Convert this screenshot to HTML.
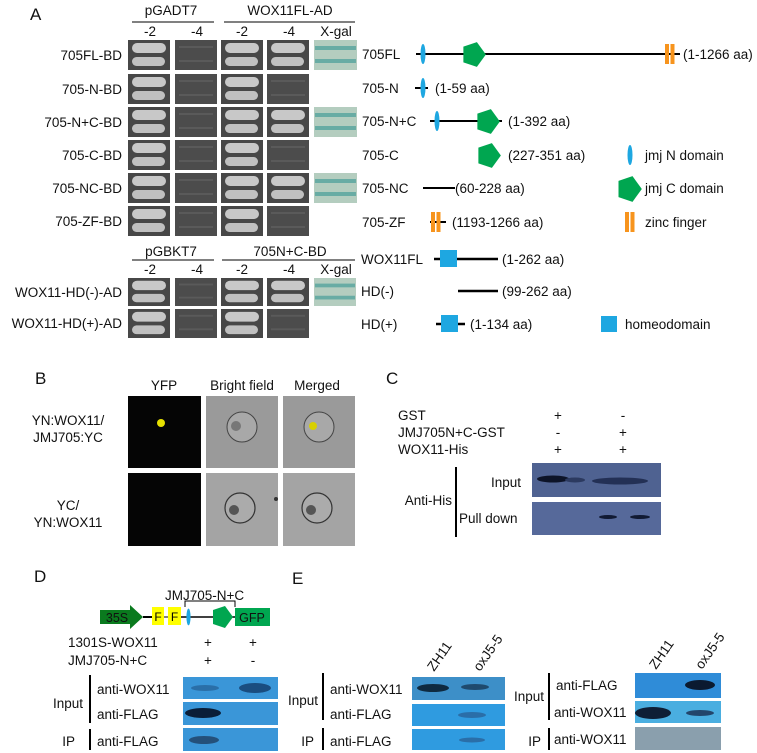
<!DOCTYPE html>
<html><head><meta charset="utf-8"><style>
html,body{margin:0;padding:0;background:#fff;}
svg{display:block;font-family:"Liberation Sans",Arial,sans-serif;}
</style></head><body>
<svg width="757" height="753" viewBox="0 0 757 753" xmlns="http://www.w3.org/2000/svg">
<defs>
<symbol id="pos" viewBox="0 0 42 30" preserveAspectRatio="none">
<rect width="42" height="30" fill="#474747"/>
<rect x="4" y="3" width="34" height="10" rx="5" fill="#c8c8c8"/>
<rect x="4" y="17" width="33" height="9" rx="4.5" fill="#c0c0c0"/>
</symbol>
<symbol id="neg" viewBox="0 0 42 30" preserveAspectRatio="none">
<rect width="42" height="30" fill="#4c4c4c"/>
<rect x="4" y="6" width="34" height="2" fill="#5a5a5a"/>
<rect x="4" y="20" width="34" height="2" fill="#5a5a5a"/>
</symbol>
<symbol id="xg" viewBox="0 0 42 30" preserveAspectRatio="none">
<rect width="42" height="30" fill="#b4cdbf"/>
<rect x="1" y="6" width="40" height="4" fill="#68aca4"/>
<rect x="1" y="19" width="40" height="4" fill="#68aca4"/>
</symbol>
<symbol id="pent" viewBox="-12 -12 24 24">
<polygon points="-9,-7 3,-11 11,0 3,11 -9,7" fill="#00a650"/>
</symbol>
<symbol id="ell" viewBox="-3 -10 6 20"><ellipse cx="0" cy="0" rx="2.5" ry="10" fill="#1ea7e1"/></symbol>
<symbol id="zf" viewBox="0 0 10 20"><rect x="0" y="0" width="4" height="20" fill="#f7941d"/><rect x="5.5" y="0" width="4" height="20" fill="#f7941d"/></symbol>
</defs>

<!-- ============ PANEL A ============ -->
<g font-size="13.5" fill="#111">
<text x="30" y="20" font-size="17">A</text>
<text x="171" y="15" text-anchor="middle">pGADT7</text>
<line x1="132" y1="22" x2="214" y2="22" stroke="#000" stroke-width="1"/>
<text x="290" y="15" text-anchor="middle">WOX11FL-AD</text>
<line x1="224" y1="22" x2="355" y2="22" stroke="#000" stroke-width="1"/>
<text x="150" y="36" text-anchor="middle">-2</text>
<text x="197" y="36" text-anchor="middle">-4</text>
<text x="242" y="36" text-anchor="middle">-2</text>
<text x="289" y="36" text-anchor="middle">-4</text>
<text x="336" y="36" text-anchor="middle">X-gal</text>

<g text-anchor="end">
<text x="122" y="60">705FL-BD</text>
<text x="122" y="94">705-N-BD</text>
<text x="122" y="127">705-N+C-BD</text>
<text x="122" y="160">705-C-BD</text>
<text x="122" y="193">705-NC-BD</text>
<text x="122" y="226">705-ZF-BD</text>
<text x="122" y="297">WOX11-HD(-)-AD</text>
<text x="122" y="328">WOX11-HD(+)-AD</text>
</g>

<text x="171" y="256" text-anchor="middle">pGBKT7</text>
<line x1="132" y1="260" x2="214" y2="260" stroke="#000"/>
<text x="290" y="256" text-anchor="middle">705N+C-BD</text>
<line x1="222" y1="260" x2="355" y2="260" stroke="#000"/>
<text x="150" y="274" text-anchor="middle">-2</text>
<text x="197" y="274" text-anchor="middle">-4</text>
<text x="242" y="274" text-anchor="middle">-2</text>
<text x="289" y="274" text-anchor="middle">-4</text>
<text x="336" y="274" text-anchor="middle">X-gal</text>
</g>

<use href="#pos" x="128" y="40" width="42" height="30"/><use href="#neg" x="175" y="40" width="42" height="30"/><use href="#pos" x="221" y="40" width="42" height="30"/><use href="#pos" x="267" y="40" width="42" height="30"/><use href="#xg" x="314" y="40" width="43" height="30"/>
<use href="#pos" x="128" y="74" width="42" height="30"/><use href="#neg" x="175" y="74" width="42" height="30"/><use href="#pos" x="221" y="74" width="42" height="30"/><use href="#neg" x="267" y="74" width="42" height="30"/>
<use href="#pos" x="128" y="107" width="42" height="30"/><use href="#neg" x="175" y="107" width="42" height="30"/><use href="#pos" x="221" y="107" width="42" height="30"/><use href="#pos" x="267" y="107" width="42" height="30"/><use href="#xg" x="314" y="107" width="43" height="30"/>
<use href="#pos" x="128" y="140" width="42" height="30"/><use href="#neg" x="175" y="140" width="42" height="30"/><use href="#pos" x="221" y="140" width="42" height="30"/><use href="#neg" x="267" y="140" width="42" height="30"/>
<use href="#pos" x="128" y="173" width="42" height="30"/><use href="#neg" x="175" y="173" width="42" height="30"/><use href="#pos" x="221" y="173" width="42" height="30"/><use href="#pos" x="267" y="173" width="42" height="30"/><use href="#xg" x="314" y="173" width="43" height="30"/>
<use href="#pos" x="128" y="206" width="42" height="30"/><use href="#neg" x="175" y="206" width="42" height="30"/><use href="#pos" x="221" y="206" width="42" height="30"/><use href="#neg" x="267" y="206" width="42" height="30"/>
<use href="#pos" x="128" y="278" width="42" height="28"/><use href="#neg" x="175" y="278" width="42" height="28"/><use href="#pos" x="221" y="278" width="42" height="28"/><use href="#pos" x="267" y="278" width="42" height="28"/><use href="#xg" x="314" y="278" width="42" height="28"/>
<use href="#pos" x="128" y="309" width="42" height="29"/><use href="#neg" x="175" y="309" width="42" height="29"/><use href="#pos" x="221" y="309" width="42" height="29"/><use href="#neg" x="267" y="309" width="42" height="29"/>

<g font-size="13.5" fill="#111">
<text x="362" y="59">705FL</text>
<text x="362" y="93">705-N</text>
<text x="362" y="126">705-N+C</text>
<text x="362" y="160">705-C</text>
<text x="362" y="193">705-NC</text>
<text x="362" y="227">705-ZF</text>
<text x="361" y="264">WOX11FL</text>
<text x="361" y="296">HD(-)</text>
<text x="361" y="329">HD(+)</text>

<text x="683" y="59">(1-1266 aa)</text>
<text x="435" y="93">(1-59 aa)</text>
<text x="508" y="126">(1-392 aa)</text>
<text x="508" y="160">(227-351 aa)</text>
<text x="455" y="193">(60-228 aa)</text>
<text x="452" y="227">(1193-1266 aa)</text>
<text x="502" y="264">(1-262 aa)</text>
<text x="502" y="296">(99-262 aa)</text>
<text x="470" y="329">(1-134 aa)</text>
<text x="645" y="160">jmj N domain</text>
<text x="645" y="193">jmj C domain</text>
<text x="645" y="227">zinc finger</text>
<text x="625" y="329">homeodomain</text>
</g>
<g stroke="#000" stroke-width="2">
<line x1="416" y1="54" x2="680" y2="54"/>
<line x1="415" y1="88" x2="428" y2="88"/>
<line x1="430" y1="121" x2="502" y2="121"/>
<line x1="423" y1="188" x2="455" y2="188"/>
<line x1="430" y1="222" x2="446" y2="222"/>
<line x1="434" y1="259" x2="498" y2="259" stroke-width="2.5"/>
<line x1="458" y1="291" x2="498" y2="291" stroke-width="2.5"/>
<line x1="436" y1="324" x2="465" y2="324" stroke-width="2.5"/>
</g>
<use href="#ell" x="420" y="44" width="6" height="20"/>
<use href="#pent" x="460" y="41" width="27" height="27"/>
<use href="#zf" x="665" y="44" width="10" height="20"/>
<use href="#ell" x="420" y="78" width="6" height="20"/>
<use href="#ell" x="434" y="111" width="6" height="20"/>
<use href="#pent" x="474" y="108" width="27" height="27"/>
<use href="#pent" x="475" y="142" width="27" height="27"/>
<use href="#ell" x="627" y="145" width="6" height="20"/>
<use href="#pent" x="615" y="175" width="28" height="28"/>
<use href="#zf" x="431" y="212" width="10" height="20"/>
<use href="#zf" x="625" y="212" width="10" height="20"/>
<rect x="440" y="250" width="17" height="17" fill="#1ea7e1"/>
<rect x="441" y="315" width="17" height="17" fill="#1ea7e1"/>
<rect x="601" y="316" width="16" height="16" fill="#1ea7e1"/>

<!-- ============ PANEL B ============ -->
<g font-size="13.5" fill="#111">
<text x="35" y="384" font-size="17">B</text>
<text x="164" y="390" text-anchor="middle">YFP</text>
<text x="242" y="390" text-anchor="middle">Bright field</text>
<text x="317" y="390" text-anchor="middle">Merged</text>
<text x="68" y="425" text-anchor="middle">YN:WOX11/</text>
<text x="68" y="442" text-anchor="middle">JMJ705:YC</text>
<text x="68" y="510" text-anchor="middle">YC/</text>
<text x="68" y="527" text-anchor="middle">YN:WOX11</text>
</g>
<rect x="128" y="396" width="73" height="72" fill="#050505"/>
<circle cx="161" cy="423" r="4" fill="#e6e000"/>
<rect x="206" y="396" width="72" height="72" fill="#9a9a9a"/>
<circle cx="242" cy="427" r="15" fill="#a8a8a8" stroke="#444" stroke-width="1"/>
<circle cx="236" cy="426" r="5" fill="#777"/>
<rect x="283" y="396" width="72" height="72" fill="#9a9a9a"/>
<circle cx="319" cy="427" r="15" fill="#a8a8a8" stroke="#444" stroke-width="1"/>
<circle cx="313" cy="426" r="4" fill="#d8d000"/>
<rect x="128" y="473" width="73" height="73" fill="#050505"/>
<rect x="206" y="473" width="72" height="73" fill="#a4a4a4"/>
<circle cx="240" cy="508" r="15" fill="#ababab" stroke="#333" stroke-width="1.2"/>
<circle cx="234" cy="510" r="5" fill="#555"/>
<circle cx="276" cy="499" r="2" fill="#333"/>
<rect x="283" y="473" width="72" height="73" fill="#a4a4a4"/>
<circle cx="317" cy="508" r="15" fill="#ababab" stroke="#333" stroke-width="1.2"/>
<circle cx="311" cy="510" r="5" fill="#555"/>

<!-- ============ PANEL C ============ -->
<g font-size="13.5" fill="#111">
<text x="386" y="384" font-size="17">C</text>
<text x="398" y="420">GST</text>
<text x="398" y="437">JMJ705N+C-GST</text>
<text x="398" y="454">WOX11-His</text>
<text x="558" y="420" text-anchor="middle">+</text>
<text x="558" y="437" text-anchor="middle">-</text>
<text x="558" y="454" text-anchor="middle">+</text>
<text x="623" y="420" text-anchor="middle">-</text>
<text x="623" y="437" text-anchor="middle">+</text>
<text x="623" y="454" text-anchor="middle">+</text>
<text x="521" y="487" text-anchor="end">Input</text>
<text x="452" y="505" text-anchor="end">Anti-His</text>
<text x="459" y="523">Pull down</text>
</g>
<line x1="456" y1="467" x2="456" y2="537" stroke="#000" stroke-width="2"/>
<rect x="532" y="463" width="129" height="34" fill="#4f6291"/>
<ellipse cx="553" cy="479" rx="16" ry="3.5" fill="#0d1428"/>
<ellipse cx="575" cy="480" rx="10" ry="2.5" fill="#2c3a60"/>
<ellipse cx="620" cy="481" rx="28" ry="3.5" fill="#233055"/>
<rect x="532" y="502" width="129" height="33" fill="#56699a"/>
<ellipse cx="608" cy="517" rx="9" ry="2" fill="#111a33"/>
<ellipse cx="640" cy="517" rx="10" ry="2" fill="#111a33"/>

<!-- ============ PANEL D ============ -->
<g font-size="13.5" fill="#111">
<text x="34" y="582" font-size="17">D</text>
<text x="165" y="600">JMJ705-N+C</text>
<text x="68" y="647">1301S-WOX11</text>
<text x="68" y="665">JMJ705-N+C</text>
<text x="208" y="647" text-anchor="middle">+</text>
<text x="208" y="665" text-anchor="middle">+</text>
<text x="253" y="647" text-anchor="middle">+</text>
<text x="253" y="665" text-anchor="middle">-</text>
<text x="83" y="708" text-anchor="end">Input</text>
<text x="75" y="746" text-anchor="end">IP</text>
<text x="97" y="694">anti-WOX11</text>
<text x="97" y="719">anti-FLAG</text>
<text x="97" y="746">anti-FLAG</text>
</g>
<polygon points="100,610 130,610 130,605 143,617 130,629 130,624 100,624" fill="#0a7a1e"/>
<text x="117" y="622" font-size="12.5" fill="#111" text-anchor="middle">35S</text>
<line x1="143" y1="617" x2="152" y2="617" stroke="#000" stroke-width="2"/>
<rect x="152" y="607" width="12" height="18" fill="#ffff00"/>
<rect x="168" y="607" width="13" height="18" fill="#ffff00"/>
<text x="158" y="621" font-size="12" text-anchor="middle">F</text>
<text x="174.5" y="621" font-size="12" text-anchor="middle">F</text>
<line x1="164" y1="617" x2="168" y2="617" stroke="#000"/>
<line x1="181" y1="617" x2="235" y2="617" stroke="#000" stroke-width="1.5"/>
<use href="#ell" x="186" y="605" width="5" height="24"/>
<use href="#pent" x="210" y="605" width="24" height="24"/>
<rect x="235" y="608" width="35" height="18" fill="#00a650"/>
<text x="252" y="622" font-size="12.5" text-anchor="middle" fill="#111">GFP</text>
<polyline points="185,607 185,601 235,601 235,607" fill="none" stroke="#000" stroke-width="1"/>
<line x1="90" y1="675" x2="90" y2="723" stroke="#000" stroke-width="2"/>
<line x1="90" y1="729" x2="90" y2="750" stroke="#000" stroke-width="2"/>
<rect x="183" y="677" width="95" height="22" fill="#3a96d8"/>
<ellipse cx="205" cy="688" rx="14" ry="3" fill="#2a6fa8"/>
<ellipse cx="255" cy="688" rx="16" ry="5" fill="#1a4d80"/>
<rect x="183" y="702" width="95" height="23" fill="#3a96d8"/>
<ellipse cx="203" cy="713" rx="18" ry="5" fill="#0a1e38"/>
<rect x="183" y="728" width="95" height="23" fill="#3a96d8"/>
<ellipse cx="204" cy="740" rx="15" ry="4" fill="#24507a"/>

<!-- ============ PANEL E ============ -->
<g font-size="13.5" fill="#111">
<text x="292" y="584" font-size="17">E</text>
<text x="318" y="705" text-anchor="end">Input</text>
<text x="314" y="746" text-anchor="end">IP</text>
<text x="330" y="694">anti-WOX11</text>
<text x="330" y="719">anti-FLAG</text>
<text x="330" y="746">anti-FLAG</text>
<text transform="translate(434,672) rotate(-55)">ZH11</text>
<text transform="translate(480,672) rotate(-55)">oxJ5-5</text>
<text x="544" y="701" text-anchor="end">Input</text>
<text x="541" y="746" text-anchor="end">IP</text>
<text x="556" y="690">anti-FLAG</text>
<text x="554" y="717">anti-WOX11</text>
<text x="554" y="744">anti-WOX11</text>
<text transform="translate(656,670) rotate(-55)">ZH11</text>
<text transform="translate(702,670) rotate(-55)">oxJ5-5</text>
</g>
<line x1="323" y1="673" x2="323" y2="720" stroke="#000" stroke-width="2"/>
<line x1="323" y1="728" x2="323" y2="750" stroke="#000" stroke-width="2"/>
<rect x="412" y="677" width="93" height="23" fill="#3d8fc8"/>
<ellipse cx="433" cy="688" rx="16" ry="4" fill="#0f2a40"/>
<ellipse cx="475" cy="687" rx="14" ry="3" fill="#1f4a6e"/>
<rect x="412" y="704" width="93" height="22" fill="#2f9be0"/>
<ellipse cx="472" cy="715" rx="14" ry="3" fill="#2a6ea8"/>
<rect x="412" y="729" width="93" height="21" fill="#2f9be0"/>
<ellipse cx="472" cy="740" rx="13" ry="2.5" fill="#2a6ea8"/>

<line x1="549" y1="673" x2="549" y2="720" stroke="#000" stroke-width="2"/>
<line x1="549" y1="728" x2="549" y2="750" stroke="#000" stroke-width="2"/>
<rect x="635" y="673" width="86" height="25" fill="#2f8cd8"/>
<ellipse cx="700" cy="685" rx="15" ry="5" fill="#0b1a30"/>
<rect x="635" y="701" width="86" height="22" fill="#4aaee0"/>
<ellipse cx="653" cy="713" rx="18" ry="6" fill="#0e1f36"/>
<ellipse cx="700" cy="713" rx="14" ry="3" fill="#23466b"/>
<rect x="635" y="727" width="86" height="23" fill="#8a9fad"/>
</svg>
</body></html>
